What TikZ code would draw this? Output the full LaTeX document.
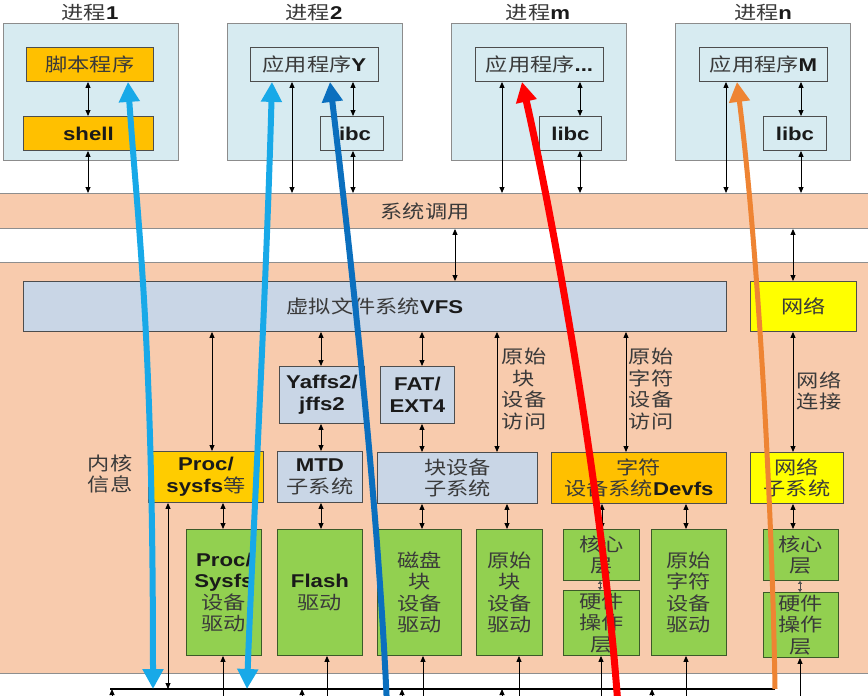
\documentclass[tikz,border=0pt]{standalone}
\usepackage{fontspec}
\setmainfont{Liberation Sans}[FakeStretch=1.2]
\newfontfamily\cjk{Noto Sans CJK SC}[FakeStretch=1.2]
\usetikzlibrary{arrows.meta}
\definecolor{procfill}{HTML}{D7EBF1}
\definecolor{procdraw}{HTML}{8C8C8C}
\definecolor{bord}{HTML}{4D4D4D}
\definecolor{peach}{HTML}{F8CBAD}
\definecolor{peachd}{HTML}{8E8E8E}
\definecolor{fsfill}{HTML}{C9D6E6}
\definecolor{gold}{HTML}{FFC000}
\definecolor{goldb}{HTML}{FFCC00}
\definecolor{yel}{HTML}{FFFF00}
\definecolor{grn}{HTML}{92D050}
\definecolor{grnd}{HTML}{3C5A28}
\definecolor{zhc}{HTML}{3A3A3A}
\definecolor{enc}{HTML}{1A1A1A}
\definecolor{lblue}{HTML}{18A9E8}
\definecolor{dblue}{HTML}{0B6FBE}
\definecolor{ored}{HTML}{FF0000}
\definecolor{orng}{HTML}{EE8433}
\newcommand\fsz{\fontsize{18.5}{21.5}\selectfont}
\newcommand\zh[1]{{\cjk\mdseries\color{zhc}#1}}
\newcommand\en[1]{{\normalfont\bfseries\color{enc}#1}}
\begin{document}
\begin{tikzpicture}[x=1pt,y=-1pt,
  bx/.style={draw=bord, line width=0.9pt, inner sep=0pt, anchor=north west, align=center, font=\fsz\cjk, text=zhc},
  procbox/.style={bx, draw=procdraw, fill=procfill, line width=1.1pt},
  inbox/.style={bx, fill=procfill},
  fsbox/.style={bx, fill=fsfill},
  goldbox/.style={bx, fill=gold},
  yelbox/.style={bx, fill=yel},
  grnbox/.style={bx, fill=grn, draw=grnd},
  band/.style={draw=peachd, fill=peach, line width=0.9pt, inner sep=0pt, anchor=north west},
  zt/.style={inner sep=0pt, align=center, font=\fsz\cjk, text=zhc},
  dbl/.style={{Triangle[length=6pt,width=5pt]}-{Triangle[length=6pt,width=5pt]}, line width=0.9pt, black},
  sml/.style={{Triangle[length=3pt,width=4pt]}-{Triangle[length=3pt,width=4pt]}, line width=0.6pt, black!70},
  upar/.style={-{Triangle[length=6pt,width=5pt]}, line width=0.9pt, black},
  bigboth/.style={{Triangle[length=20pt,width=20pt]}-{Triangle[length=20pt,width=20pt]}, line width=6pt},
  bigup/.style={{Triangle[length=20pt,width=20pt]}-, line width=6pt}
]
\useasboundingbox (0,0) rectangle (868,696);
\fill[white] (0,0) rectangle (868,696);

% bands
\node[band, minimum width=872pt, minimum height=35pt] (sys) at (-2,193) {};
\node[zt] (syslbl) at (425,211) {系统调用};
\node[band, minimum width=872pt, minimum height=411pt] (kern) at (-2,262) {};

% process titles
\node[zt] (t1) at (90,13) {进程\en{1}};
\node[zt] (t2) at (314,13) {进程\en{2}};
\node[zt] (tm) at (538,13) {进程\en{m}};
\node[zt] (tn) at (763,13) {进程\en{n}};

% process boxes
\node[procbox, minimum width=175pt, minimum height=137pt] (p1) at (3,23) {};
\node[procbox, minimum width=175pt, minimum height=137pt] (p2) at (227,23) {};
\node[procbox, minimum width=175pt, minimum height=137pt] (pm) at (451,23) {};
\node[procbox, minimum width=175pt, minimum height=137pt] (pn) at (675,23) {};

\node[goldbox, minimum width=127pt, minimum height=34pt] (script) at (26,47) {脚本程序};
\node[goldbox, minimum width=130pt, minimum height=34pt] (shell) at (23,116) {\en{shell}};
\node[inbox, minimum width=128pt, minimum height=34pt] (app2) at (250,47) {应用程序\en{Y}};
\node[inbox, minimum width=63pt, minimum height=34pt] (libc2) at (320,116) {\en{libc}};
\node[inbox, minimum width=128pt, minimum height=34pt] (appm) at (475,47) {应用程序\en{...}};
\node[inbox, minimum width=62pt, minimum height=34pt] (libcm) at (539,116) {\en{libc}};
\node[inbox, minimum width=128pt, minimum height=34pt] (appn) at (699,47) {应用程序\en{M}};
\node[inbox, minimum width=63pt, minimum height=34pt] (libcn) at (763,116) {\en{libc}};

% kernel boxes
\node[fsbox, minimum width=703pt, minimum height=50pt] (vfs) at (23,281) {虚拟文件系统\en{VFS}};
\node[yelbox, minimum width=106pt, minimum height=50pt] (net) at (750,281) {网络};
\node[fsbox, minimum width=85pt, minimum height=57pt] (yaffs) at (279,366) {\en{Yaffs2/}\\\en{jffs2}};
\node[fsbox, minimum width=74pt, minimum height=57pt] (fat) at (380,366) {\en{FAT/}\\\en{EXT4}};
\node[bx, fill=goldb, minimum width=115pt, minimum height=51pt] (procfs) at (148,451) {\en{Proc/}\\\en{sysfs}等};
\node[fsbox, minimum width=85pt, minimum height=51pt] (mtd) at (277,451) {\en{MTD}\\子系统};
\node[fsbox, minimum width=160pt, minimum height=51pt] (blk) at (377,452) {块设备\\子系统};
\node[goldbox, minimum width=175pt, minimum height=51pt] (chr) at (551,452) {字符\\设备系统\en{Devfs}};
\node[yelbox, minimum width=93pt, minimum height=51pt] (netsub) at (750,452) {网络\\子系统};

\node[zt] (kinfo) at (110,474) {内核\\信息};
\node[zt] (rawblkacc) at (524,389) {原始\\块\\设备\\访问};
\node[zt] (rawchracc) at (651,389) {原始\\字符\\设备\\访问};
\node[zt] (netconn) at (819,391) {网络\\连接};

% driver boxes
\node[grnbox, minimum width=75pt, minimum height=126pt] (procdrv) at (186,529) {\en{Proc/}\\\en{Sysfs}\\设备\\驱动};
\node[grnbox, minimum width=85pt, minimum height=126pt] (flash) at (277,529) {\en{Flash}\\驱动};
\node[grnbox, minimum width=84pt, minimum height=126pt] (disk) at (377,529) {磁盘\\块\\设备\\驱动};
\node[grnbox, minimum width=66pt, minimum height=126pt] (rawblk) at (476,529) {原始\\块\\设备\\驱动};
\node[grnbox, minimum width=76pt, minimum height=51pt] (corem) at (563,529) {核心\\层};
\node[grnbox, minimum width=76pt, minimum height=65pt] (hwm) at (563,590) {硬件\\操作\\层};
\node[grnbox, minimum width=75pt, minimum height=126pt] (rawchr) at (651,529) {原始\\字符\\设备\\驱动};
\node[grnbox, minimum width=75pt, minimum height=51pt] (coren) at (763,529) {核心\\层};
\node[grnbox, minimum width=75pt, minimum height=65pt] (hwn) at (763,592) {硬件\\操作\\层};

% helper coordinates
\foreach \xx in {88,112,128,153,168,212,223,247,272,292,302,321,327,330,353,387,402,422,423,455,497,502,507,519,522,580,600,601,602,618,626,652,686,726,737,793,800,801}
  \coordinate (x\xx) at (\xx,0);
\coordinate (bot) at (0,697);
\coordinate (offb) at (0,706);
\coordinate (busL) at (110,689);
\coordinate (busR) at (775,689);

% thin connectors
\draw[dbl] (script.south -| x88) -- (shell.north -| x88);
\draw[dbl] (shell.south -| x88) -- (sys.north -| x88);
\draw[dbl] (app2.south -| x292) -- (sys.north -| x292);
\draw[dbl] (app2.south -| x353) -- (libc2.north -| x353);
\draw[dbl] (libc2.south -| x353) -- (sys.north -| x353);
\draw[dbl] (appm.south -| x502) -- (sys.north -| x502);
\draw[dbl] (appm.south -| x580) -- (libcm.north -| x580);
\draw[dbl] (libcm.south -| x580) -- (sys.north -| x580);
\draw[dbl] (appn.south -| x726) -- (sys.north -| x726);
\draw[dbl] (appn.south -| x801) -- (libcn.north -| x801);
\draw[dbl] (libcn.south -| x801) -- (sys.north -| x801);
\draw[dbl] (sys.south -| x455) -- (vfs.north -| x455);
\draw[dbl] (sys.south -| x793) -- (net.north -| x793);
\draw[dbl] (vfs.south -| x212) -- (procfs.north -| x212);
\draw[dbl] (vfs.south -| x321) -- (yaffs.north -| x321);
\draw[dbl] (yaffs.south -| x321) -- (mtd.north -| x321);
\draw[dbl] (mtd.south -| x321) -- (flash.north -| x321);
\draw[dbl] (vfs.south -| x422) -- (fat.north -| x422);
\draw[dbl] (fat.south -| x422) -- (blk.north -| x422);
\draw[dbl] (blk.south -| x422) -- (disk.north -| x422);
\draw[dbl] (vfs.south -| x497) -- (blk.north -| x497);
\draw[dbl] (blk.south -| x507) -- (rawblk.north -| x507);
\draw[dbl] (vfs.south -| x626) -- (chr.north -| x626);
\draw[dbl] (chr.south -| x602) -- (corem.north -| x602);
\draw[dbl] (chr.south -| x686) -- (rawchr.north -| x686);
\draw[dbl] (net.south -| x793) -- (netsub.north -| x793);
\draw[dbl] (netsub.south -| x793) -- (coren.north -| x793);
\draw[dbl] (procfs.south -| x223) -- (procdrv.north -| x223);
\draw[dbl] (procfs.south -| x168) -- (busL -| x168);
\draw[sml] (corem.south -| x600) -- (hwm.north -| x600);
\draw[sml] (coren.south -| x800) -- (hwn.north -| x800);

% bus and bottom arrows
\draw[line width=1.6pt] (busL) -- (busR);
\foreach \xx in {112,302,402,502,652}
  \draw[upar] (bot -| x\xx) -- (busL -| x\xx);
\draw[upar] (bot -| x223) -- (procdrv.south -| x223);
\draw[upar] (bot -| x327) -- (flash.south -| x327);
\draw[upar] (bot -| x423) -- (disk.south -| x423);
\draw[upar] (bot -| x519) -- (rawblk.south -| x519);
\draw[upar] (bot -| x601) -- (hwm.south -| x601);
\draw[upar] (bot -| x686) -- (rawchr.south -| x686);
\draw[upar] (bot -| x800) -- (hwn.south -| x800);

% big coloured paths
\draw[bigboth, lblue] (script.south -| x128) .. controls (138,230) and (153,330) .. (busL -| x153);
\draw[bigboth, lblue] (app2.south -| x272) .. controls (266,300) and (252,550) .. (busL -| x247);
\draw[bigup, dblue] (app2.south -| x330) .. controls (350,250) and (378,500) .. (offb -| x387);
\draw[bigup, ored, line width=7pt] (appm.south -| x522) .. controls (560,250) and (605,520) .. (offb -| x618);
\draw[bigup, orng, line width=5pt] (appn.south -| x737) .. controls (758,250) and (772,500) .. (busR);
\end{tikzpicture}
\end{document}
